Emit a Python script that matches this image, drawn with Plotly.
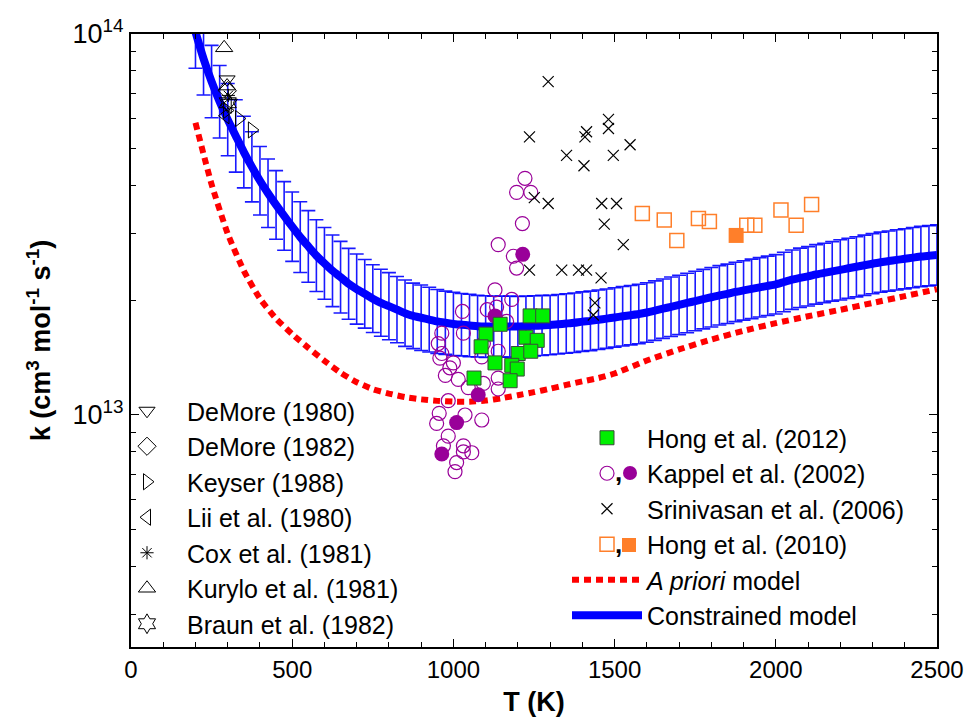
import plotly.graph_objects as go

# ---------------- data (k in units of 1e13 cm^3 mol^-1 s^-1) ----------------
T_con = [200, 225, 250, 275, 300, 325, 350, 375, 400, 425, 450, 475, 500, 525, 550, 575,
         600, 625, 650, 675, 700, 725, 750, 775, 800, 825, 850, 875, 900, 925, 950, 975,
         1000, 1025, 1050, 1075, 1100, 1125, 1150, 1175, 1200, 1225, 1250, 1275, 1300, 1325,
         1350, 1375, 1400, 1425, 1450, 1475, 1500, 1525, 1550, 1575, 1600, 1625, 1650, 1675,
         1700, 1725, 1750, 1775, 1800, 1825, 1850, 1875, 1900, 1925, 1950, 1975, 2000, 2025,
         2050, 2075, 2100, 2125, 2150, 2175, 2200, 2225, 2250, 2275, 2300, 2325, 2350, 2375,
         2400, 2425, 2450, 2475, 2500]
k_con = [10.12, 8.61, 7.50, 6.64, 5.96, 5.40, 4.90, 4.48, 4.12, 3.82, 3.56, 3.33, 3.12, 2.93, 2.77, 2.62,
         2.50, 2.39, 2.30, 2.21, 2.14, 2.08, 2.02, 1.97, 1.93, 1.89, 1.85, 1.82, 1.80, 1.78, 1.76, 1.746,
         1.734, 1.726, 1.718, 1.710, 1.706, 1.706, 1.706, 1.706, 1.706, 1.710, 1.714, 1.718, 1.722, 1.730,
         1.738, 1.746, 1.758, 1.766, 1.778, 1.790, 1.803, 1.816, 1.828, 1.841, 1.858, 1.879, 1.901, 1.923,
         1.945, 1.968, 1.991, 2.014, 2.037, 2.061, 2.080, 2.104, 2.123, 2.143, 2.163, 2.183, 2.203, 2.234,
         2.265, 2.291, 2.312, 2.339, 2.360, 2.382, 2.404, 2.427, 2.449, 2.472, 2.495, 2.518, 2.535, 2.553,
         2.570, 2.588, 2.606, 2.618, 2.630]
# half-width of the uncertainty bars, in decades
err_con = [0.095, 0.095, 0.095, 0.095, 0.095, 0.095, 0.094, 0.092, 0.090, 0.090, 0.090, 0.090, 0.091, 0.093, 0.094, 0.094,
           0.094, 0.094, 0.094, 0.093, 0.092, 0.090, 0.089, 0.088, 0.088, 0.087, 0.087, 0.086, 0.086, 0.085, 0.084, 0.083,
           0.083, 0.082, 0.082, 0.081, 0.081, 0.080, 0.080, 0.080, 0.079, 0.079, 0.079, 0.079, 0.078, 0.078,
           0.078, 0.078, 0.078, 0.078, 0.078, 0.078, 0.078, 0.078, 0.078, 0.078, 0.078, 0.078, 0.078, 0.078,
           0.078, 0.078, 0.078, 0.078, 0.078, 0.078, 0.078, 0.078, 0.078, 0.078, 0.078, 0.078, 0.078, 0.078,
           0.078, 0.078, 0.078, 0.078, 0.078, 0.078, 0.079, 0.079, 0.079, 0.079, 0.079, 0.079, 0.079, 0.079,
           0.079, 0.079, 0.079, 0.079, 0.079]

T_apr = [200, 250, 300, 350, 400, 450, 500, 550, 600, 650, 700, 750, 800, 850, 900, 950, 1000, 1050,
         1100, 1150, 1200, 1250, 1300, 1350, 1400, 1450, 1500, 1600, 1700, 1800, 1900, 2000, 2100,
         2200, 2300, 2400, 2500]
k_apr = [5.85, 4.03, 2.99, 2.39, 2.02, 1.79, 1.63, 1.500, 1.387, 1.291, 1.219, 1.169, 1.138, 1.114, 1.099,
         1.089, 1.084, 1.084, 1.091, 1.107, 1.127, 1.148, 1.172, 1.199, 1.225, 1.25, 1.285, 1.390, 1.486,
         1.578, 1.663, 1.742, 1.816, 1.888, 1.968, 2.051, 2.138]

T_hong12 = [1238, 1277, 1145, 1101, 1086, 1225, 1260, 1201, 1240, 1129, 1181, 1198, 1176, 1064]
k_hong12 = [1.82, 1.82, 1.73, 1.63, 1.51, 1.60, 1.57, 1.45, 1.47, 1.37, 1.35, 1.32, 1.23, 1.25]

T_kap_o = [1222, 1196, 1240, 1214, 1139, 1186, 1196, 1129, 1181, 1028, 1105, 1134, 1165, 1031, 964,
           953, 964, 958, 989, 1093, 1139, 1088, 1015, 1046, 1093, 1139, 1139, 984, 1036, 956, 948,
           1088, 984, 969, 1031, 1057, 1031, 1010, 1005, 975, 1000]
k_kap_o = [4.18, 3.84, 3.84, 3.18, 2.80, 2.61, 2.43, 2.13, 2.01, 1.87, 1.89, 1.92, 1.76, 1.64, 1.64,
           1.54, 1.45, 1.41, 1.33, 1.54, 1.47, 1.42, 1.24, 1.18, 1.21, 1.25, 1.17, 1.09, 1.00, 1.01, 0.95,
           0.97, 0.88, 0.83, 0.83, 0.796, 0.80, 0.75, 0.71, 1.27, 1.37]
T_kap_f = [1215, 1129, 1077, 1010, 964]
k_kap_f = [2.64, 1.82, 1.13, 0.955, 0.79]

T_srini = [1294, 1236, 1481, 1481, 1413, 1408, 1548, 1351, 1405, 1496, 1251, 1294, 1460, 1506, 1468,
           1527, 1236, 1336, 1388, 1413, 1458, 1439, 1434]
k_srini = [7.5, 5.37, 5.97, 5.65, 5.54, 5.37, 5.12, 4.80, 4.51, 4.80, 3.72, 3.59, 3.59, 3.59, 3.17,
           2.80, 2.40, 2.40, 2.40, 2.40, 2.29, 1.97, 1.83]

T_hong10_o = [1586, 1654, 1693, 1760, 1794, 1910, 1935, 2016, 2063, 2111]
k_hong10_o = [3.38, 3.25, 2.87, 3.28, 3.22, 3.15, 3.15, 3.45, 3.15, 3.57]
T_hong10_f = [1877]
k_hong10_f = [2.96]

T_demore80 = [298, 305]
k_demore80 = [7.6, 6.6]
T_demore82 = [299]
k_demore82 = [7.1]
T_keyser = [298, 335, 375]
k_keyser = [6.3, 6.0, 5.6]
T_lii = [293, 300]
k_lii = [6.1, 6.5]
T_cox = [302]
k_cox = [6.9]
T_kurylo = [289, 298]
k_kurylo = [9.2, 7.3]
T_braun = [300]
k_braun = [6.6]

x_ticks = [0, 500, 1000, 1500, 2000, 2500]
y_ticks = [1e13, 1e14]
y_ticktext = ["10<sup>13</sup>", "10<sup>14</sup>"]
y_minor = [3e12, 4e12, 5e12, 6e12, 7e12, 8e12, 9e12,
           2e13, 3e13, 4e13, 5e13, 6e13, 7e13, 8e13, 9e13]

UNIT = 1e13


def scale(v):
    return [a * UNIT for a in v]


k_con_abs = scale(k_con)
err_plus = [k * (10 ** e - 1) for k, e in zip(k_con_abs, err_con)]
err_minus = [k * (1 - 10 ** (-e)) for k, e in zip(k_con_abs, err_con)]

BLUE = "#0000ff"
RED = "#ff0000"
PURPLE = "#990099"
ORANGE = "#ff7f2a"
GREEN = "#00f000"

fig = go.Figure()

# constrained model with uncertainty bars
fig.add_trace(go.Scatter(
    x=T_con, y=k_con_abs, mode="lines", name="Constrained model",
    line=dict(color=BLUE, width=8, shape="spline", smoothing=0.6),
    error_y=dict(type="data", symmetric=False, array=err_plus, arrayminus=err_minus,
                 color="rgba(0,0,255,0.9)", thickness=1.6, width=7),
    legend="legend2", legendrank=6))

fig.add_trace(go.Scatter(
    x=T_apr, y=scale(k_apr), mode="lines", name="<i>A priori</i> model",
    line=dict(color=RED, width=6, dash="7px,5px", shape="spline", smoothing=0.5),
    legend="legend2", legendrank=5))

# early low-temperature studies
early = [
    ("DeMore (1980)", T_demore80, k_demore80, "triangle-down-open", 14),
    ("DeMore (1982)", T_demore82, k_demore82, "diamond-open", 14),
    ("Keyser (1988)", T_keyser, k_keyser, "triangle-right-open", 14),
    ("Lii et al. (1980)", T_lii, k_lii, "triangle-left-open", 14),
    ("Cox et al. (1981)", T_cox, k_cox, "asterisk-open", 11),
    ("Kurylo et al. (1981)", T_kurylo, k_kurylo, "triangle-up-open", 15),
    ("Braun et al. (1982)", T_braun, k_braun, "hexagram-open", 15),
]
for i, (nm, xs, ys, sym, sz) in enumerate(early):
    fig.add_trace(go.Scatter(
        x=xs, y=scale(ys), mode="markers", name=nm,
        marker=dict(symbol=sym, size=sz, color="black", line=dict(color="black", width=1)),
        legend="legend", legendrank=i + 1))

fig.add_trace(go.Scatter(
    x=T_kap_o, y=scale(k_kap_o), mode="markers", name="Kappel et al. (2002)",
    marker=dict(symbol="circle-open", size=14, color=PURPLE, line=dict(color=PURPLE, width=1.2)),
    legend="legend2", legendrank=2))
fig.add_trace(go.Scatter(
    x=T_kap_f, y=scale(k_kap_f), mode="markers", name="Kappel et al. (2002) filled",
    marker=dict(symbol="circle", size=15, color=PURPLE), showlegend=False))

fig.add_trace(go.Scatter(
    x=T_srini, y=scale(k_srini), mode="markers", name="Srinivasan et al. (2006)",
    marker=dict(symbol="x-thin-open", size=11, color="black", line=dict(color="black", width=1.2)),
    legend="legend2", legendrank=3))

fig.add_trace(go.Scatter(
    x=T_hong10_o, y=scale(k_hong10_o), mode="markers", name="Hong et al. (2010)",
    marker=dict(symbol="square-open", size=14, color=ORANGE, line=dict(color=ORANGE, width=1.5)),
    legend="legend2", legendrank=4))
fig.add_trace(go.Scatter(
    x=T_hong10_f, y=scale(k_hong10_f), mode="markers", name="Hong et al. (2010) filled",
    marker=dict(symbol="square", size=15, color=ORANGE), showlegend=False))

fig.add_trace(go.Scatter(
    x=T_hong12, y=scale(k_hong12), mode="markers", name="Hong et al. (2012)",
    marker=dict(symbol="square", size=14, color=GREEN, line=dict(color="#3a4a3a", width=1)),
    legend="legend2", legendrank=1))

# ---------------- layout ----------------
L, R, T, B = 131, 34, 34, 70
W, H = 971, 717
PW, PH = W - L - R, H - T - B


def px_x(px):
    return (px - L) / PW


def px_y(py):
    return (H - B - py) / PH


axis_common = dict(showline=True, linecolor="black", linewidth=2, mirror="ticks",
                   ticks="inside", tickcolor="black", tickwidth=1, ticklen=8,
                   showgrid=False, zeroline=False, automargin=False)

fig.update_layout(
    width=W, height=H,
    margin=dict(l=L, r=R, t=T, b=B),
    plot_bgcolor="white", paper_bgcolor="white",
    font=dict(family="Liberation Sans, Arial, sans-serif", color="black"),
    xaxis=dict(range=[0, 2500], tickvals=x_ticks, tickfont=dict(size=24),
               minor=dict(dtick=100, ticks="inside", ticklen=5, tickwidth=1, tickcolor="black"),
               title=dict(text="<b>T (K)</b>", font=dict(size=27), standoff=18),
               **axis_common),
    yaxis=dict(type="log", range=[12.391, 14], tickvals=y_ticks, ticktext=y_ticktext,
               tickfont=dict(size=27),
               minor=dict(tickvals=y_minor, ticks="inside", ticklen=5, tickwidth=1, tickcolor="black"),
               title=dict(text="<b>k (cm<sup>3</sup> mol<sup>-1</sup> s<sup>-1</sup>)</b>",
                          font=dict(size=27), standoff=14),
               **axis_common),
    legend=dict(x=px_x(107), y=px_y(388), xanchor="left", yanchor="top",
                bgcolor="rgba(0,0,0,0)", font=dict(size=25), itemwidth=70),
    legend2=dict(x=px_x(567), y=px_y(415), xanchor="left", yanchor="top",
                 bgcolor="rgba(0,0,0,0)", font=dict(size=25), itemwidth=70),
)

# extra glyphs for the combined legend entries (", filled symbol")
fig.add_shape(type="circle", xref="paper", yref="paper",
              x0=px_x(623), x1=px_x(637), y0=px_y(480), y1=px_y(466),
              fillcolor=PURPLE, line=dict(color=PURPLE, width=0))
fig.add_shape(type="rect", xref="paper", yref="paper",
              x0=px_x(622), x1=px_x(636), y0=px_y(552), y1=px_y(538),
              fillcolor=ORANGE, line=dict(color=ORANGE, width=0))
for yy in (472, 544):
    fig.add_annotation(xref="paper", yref="paper", x=px_x(618), y=px_y(yy),
                       text="<b>,</b>", showarrow=False, font=dict(size=26, color="black"),
                       xanchor="center", yanchor="middle", borderpad=0)

fig.write_html("out.html")
